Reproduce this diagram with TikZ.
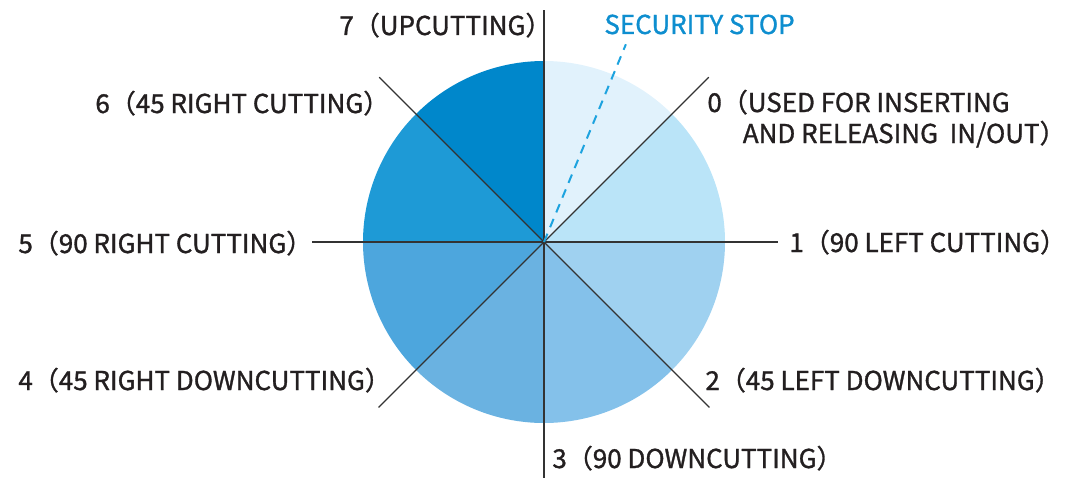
\documentclass[tikz,border=0pt]{standalone}
\usepackage{fontspec}
\newfontfamily\labelfont[FakeBold=1.2]{Noto Sans CJK JP}
\usetikzlibrary{positioning}
\definecolor{secA}{HTML}{E1F2FC}
\definecolor{secB}{HTML}{BAE4F8}
\definecolor{secC}{HTML}{9FD1F0}
\definecolor{secD}{HTML}{84C1EA}
\definecolor{secE}{HTML}{6AB2E1}
\definecolor{secF}{HTML}{4DA6DD}
\definecolor{secG}{HTML}{1E9AD6}
\definecolor{secH}{HTML}{0087CB}
\definecolor{txtgray}{HTML}{231F20}
\definecolor{spokegray}{HTML}{333333}
\definecolor{stopblue}{HTML}{1DA3DF}
\definecolor{stoptext}{HTML}{0E8ECF}

\begin{document}
\begin{tikzpicture}[line join=round,x=0.5pt,y=0.5pt,
  spoke/.style={draw=spokegray,line width=0.65pt},
  lbl/.style={anchor=base west,inner sep=0pt,text=txtgray,align=left,
    font=\labelfont\fontsize{13}{15.5}\selectfont}]
\useasboundingbox (-544,-235) rectangle (524,242);
\coordinate (c) at (0,0);
% sectors, 0 to 7 clockwise from the top
\fill[secA] (c) -- (90:181) arc (90:45:181) -- cycle;
\fill[secB] (c) -- (45:181) arc (45:0:181) -- cycle;
\fill[secC] (c) -- (0:181) arc (0:-45:181) -- cycle;
\fill[secD] (c) -- (-45:181) arc (-45:-90:181) -- cycle;
\fill[secE] (c) -- (-90:181) arc (-90:-135:181) -- cycle;
\fill[secF] (c) -- (-135:181) arc (-135:-180:181) -- cycle;
\fill[secG] (c) -- (180:181) arc (180:135:181) -- cycle;
\fill[secH] (c) -- (135:181) arc (135:90:181) -- cycle;
% spokes
\coordinate (up) at (90:232);
\coordinate (upright) at (45:233);
\coordinate (right) at (0:234);
\coordinate (downright) at (-45:234);
\coordinate (down) at (-90:236);
\coordinate (downleft) at (-135:234);
\coordinate (left) at (180:232);
\coordinate (upleft) at (135:233);
\draw[spoke] (c) -- (up);
\draw[spoke] (c) -- (upright);
\draw[spoke] (c) -- (right);
\draw[spoke] (c) -- (downright);
\draw[spoke] (c) -- (down);
\draw[spoke] (c) -- (downleft);
\draw[spoke] (c) -- (left);
\draw[spoke] (c) -- (upleft);
% security stop
\coordinate (stop) at (67.5:214);
\draw[stopblue,line width=1pt,dash pattern=on 4.5pt off 3.5pt] (c) -- (stop);
% labels
\node[lbl] (l7) at (-205,207) {7（UPCUTTING）};
\node[lbl,text=stoptext] (lstop) at (60,208) {SECURITY STOP};
\node[lbl] (l0) at (163,99) {0（USED FOR INSERTING\\\phantom{0（}\kern-2.5pt AND RELEASING~ IN/OUT）\kern-.5em};
\node[lbl] (l6) at (-449,129) {6（45 RIGHT CUTTING）};
\node[lbl] (l5) at (-526,-11) {5（90 RIGHT CUTTING）};
\node[lbl] (l1) at (245,-10) {1（90 LEFT CUTTING）};
\node[lbl] (l4) at (-526,-148) {4（45 RIGHT DOWNCUTTING）};
\node[lbl] (l2) at (161,-148) {2（45 LEFT DOWNCUTTING）};
\node[lbl] (l3) at (8,-226) {3（90 DOWNCUTTING）};
\end{tikzpicture}
\end{document}
